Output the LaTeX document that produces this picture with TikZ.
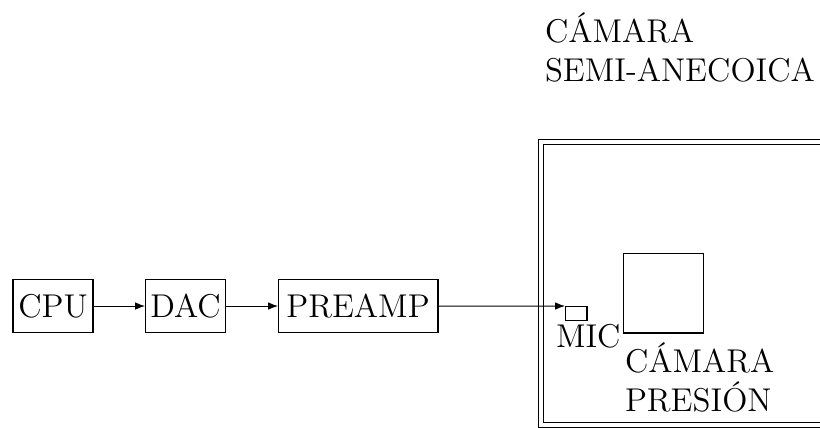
\documentclass[tikz,border=0pt]{standalone}
\usetikzlibrary{arrows.meta}
\begin{document}
\begin{tikzpicture}[x=0.3413pt,y=-0.3413pt,
  font=\fontsize{11.25}{13.2}\selectfont,
  every node/.style={outer sep=0pt},
  blk/.style={draw,line width=0.35pt,minimum height=18.4pt,inner sep=0pt,anchor=center},
  lbl/.style={inner sep=0pt,anchor=base west,align=left},
  conn/.style={line width=0.35pt,-{Latex[length=3.4pt,width=2.6pt]}},
  wall/.style={draw,line width=0.35pt,double,double distance=1.5pt}]
\useasboundingbox (0,0) rectangle (820,427);
\clip (0,0) rectangle (820,427);
% nodes
\node[blk,minimum width=27.3pt] (cpu) at (53,306) {CPU};
\node[blk,minimum width=27.6pt] (dac) at (185.5,306) {DAC};
\node[blk,minimum width=54.6pt] (pre) at (358,306) {PREAMP};
\node[draw,line width=0.35pt,minimum width=7.5pt,minimum height=4.8pt,inner sep=0pt] (mic) at (576,313.03) {};
\node[lbl] (miclbl) at (556,347) {MIC};
\node[draw,line width=0.35pt,minimum width=27.6pt,minimum height=27.3pt,inner sep=0pt] (pc) at (663.5,293) {};
\node[lbl] (pclbl) at (625,411) {CÁMARA\\PRESIÓN};
\node[lbl] (sa) at (545,81) {CÁMARA\\SEMI-ANECOICA};
% chamber wall
\path[wall] (541,142) rectangle (840,425);
% connectors
\draw[conn] (cpu.east) -- (dac.west);
\draw[conn] (dac.east) -- (pre.west);
\draw[conn] (pre.east) -- (mic.north west);
\end{tikzpicture}
\end{document}
